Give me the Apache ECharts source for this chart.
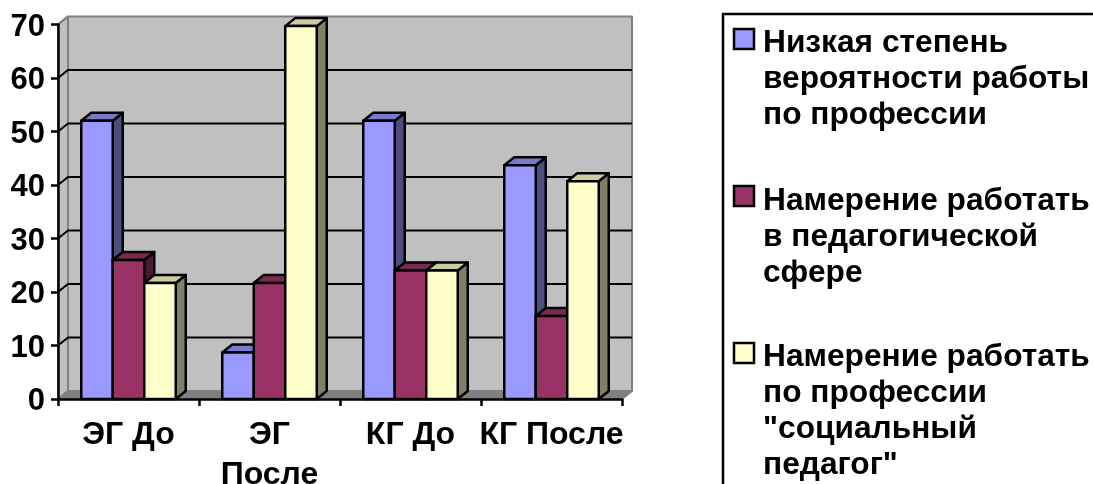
<!DOCTYPE html>
<html>
<head>
<meta charset="utf-8">
<style>
    html, body { margin: 0; padding: 0; background: #fff; }
    #main { width: 1093px; height: 484px; }
</style>
<script src="https://cdn.jsdelivr.net/npm/echarts@6/dist/echarts.min.js"></script>
</head>
<body>
<div id="main"></div>
<script>
    var categories = ['ЭГ До', 'ЭГ\nПосле', 'КГ До', 'КГ После'];
    var lowChance = [52, 8.7, 52, 43.7];
    var pedagogy = [26, 21.7, 24, 15.5];
    var socialPedagog = [21.7, 69.7, 24, 40.7];
    var tickValues = [0, 10, 20, 30, 40, 50, 60, 70];
    var seriesNames = [
        'Низкая степень\nвероятности работы\nпо профессии',
        'Намерение работать\nв педагогической\nсфере',
        'Намерение работать\nпо профессии\n"социальный\nпедагог"'
    ];

    var DX = 10, DY = 8; // сдвиг псевдо-3D
    var FONT = '"Liberation Sans", Arial, sans-serif';

    function poly(points, fill, stroke, lineWidth) {
        return {
            type: 'polygon',
            shape: { points: points },
            style: { fill: fill, stroke: stroke, lineWidth: lineWidth, lineJoin: 'round' }
        };
    }

    // стенки и пол
    function renderWalls(params, api) {
        var a = api.coord([0, 0]);
        var b = api.coord([3, 70]);
        var left = params.coordSys.x, right = left + params.coordSys.width;
        var bottom = a[1], top = b[1];
        return {
            type: 'group',
            children: [
                poly([[left + DX, top - DY], [right + DX, top - DY], [right + DX, bottom - DY], [left + DX, bottom - DY]], '#c0c0c0', '#808080', 2),
                poly([[left, top], [left + DX, top - DY], [left + DX, bottom - DY], [left, bottom]], '#c0c0c0', '#808080', 2),
                poly([[left, bottom], [left + DX, bottom - DY], [right + DX, bottom - DY], [right, bottom]], '#808080', '#808080', 2)
            ]
        };
    }

    // линии сетки
    function renderGridLine(params, api) {
        var value = api.value(0);
        var y = api.coord([0, value])[1];
        var left = params.coordSys.x, right = left + params.coordSys.width;
        if (value === 0) return null;
        if (value === 70) {
            return {
                type: 'line',
                shape: { x1: left, y1: y, x2: left + DX, y2: y - DY },
                style: { stroke: '#808080', lineWidth: 2 }
            };
        }
        return {
            type: 'polyline',
            shape: { points: [[left, y], [left + DX, y - DY], [right + DX, y - DY]] },
            style: { fill: 'none', stroke: '#000', lineWidth: 2 }
        };
    }

    function makeBarRender(seriesIndex, front, top, side) {
        return function (params, api) {
            var base = api.coord([api.value(0), 0]);
            var peak = api.coord([api.value(0), api.value(1)]);
            var band = api.size([1, 0])[0];
            var w = band * 0.2234;
            var x0 = base[0] - w * 1.5 + w * seriesIndex;
            var x1 = x0 + w;
            var yb = base[1], yt = peak[1];
            return {
                type: 'group',
                children: [
                    poly([[x1, yb], [x1 + DX, yb - DY], [x1 + DX, yt - DY], [x1, yt]], side, '#000', 2.5),
                    poly([[x0, yt], [x0 + DX, yt - DY], [x1 + DX, yt - DY], [x1, yt]], top, '#000', 2.5),
                    poly([[x0, yt], [x1, yt], [x1, yb], [x0, yb]], front, '#000', 2.5)
                ]
            };
        };
    }

    function barData(values) {
        return values.map(function (v, i) { return [i, v]; });
    }

    var colors = [
        { front: '#9999ff', top: '#7a7acc', side: '#4d4d80' },
        { front: '#993366', top: '#7a2952', side: '#4d1a33' },
        { front: '#ffffcc', top: '#cccca3', side: '#808066' }
    ];
    var values = [lowChance, pedagogy, socialPedagog];

    var series = [
        { type: 'custom', name: 'walls', renderItem: renderWalls, data: [[0, 0]], clip: false, silent: true, z: 1 },
        { type: 'custom', name: 'gridlines', renderItem: renderGridLine, data: tickValues.map(function (t) { return [t]; }), encode: { y: 0 }, clip: false, silent: true, z: 2 }
    ];
    values.forEach(function (v, i) {
        series.push({
            type: 'custom',
            name: seriesNames[i],
            renderItem: makeBarRender(i, colors[i].front, colors[i].top, colors[i].side),
            data: barData(v),
            encode: { x: 0, y: 1 },
            clip: false,
            z: 3
        });
    });

    // легенда
    var legendY = [39, 196, 353];
    var legendTextY = [25, 183, 339];
    var legendItems = [{
        type: 'polyline',
        shape: { points: [[723, 484], [723, 14], [1093, 14]] },
        style: { fill: 'none', stroke: '#000', lineWidth: 2.5 }
    }];
    seriesNames.forEach(function (name, i) {
        legendItems.push({
            type: 'rect',
            shape: { x: 734, y: legendY[i] - 10, width: 20, height: 20 },
            style: { fill: colors[i].front, stroke: '#000', lineWidth: 2.5 }
        });
        legendItems.push({
            type: 'text',
            x: 763,
            y: legendTextY[i],
            style: { text: name, font: 'bold 31.7px ' + FONT, lineHeight: 36, fill: '#000', textVerticalAlign: 'top' }
        });
    });

    var myChart = echarts.init(document.getElementById('main'));
    myChart.setOption({
        animation: false,
        backgroundColor: '#fff',
        grid: { left: 58, right: 471, top: 24.5, bottom: 85, outerBoundsMode: 'none' },
        xAxis: {
            type: 'category',
            data: categories,
            z: 5,
            axisLine: { onZero: false, lineStyle: { color: '#000', width: 2.5 } },
            axisTick: { show: true, length: 7, lineStyle: { color: '#000', width: 2.5 } },
            axisLabel: { color: '#000', fontFamily: FONT, fontWeight: 'bold', fontSize: 32, margin: 16, lineHeight: 40, interval: 0, hideOverlap: false }
        },
        yAxis: {
            type: 'value',
            min: 0,
            max: 70,
            interval: 10,
            z: 5,
            splitLine: { show: false },
            axisLine: { show: true, lineStyle: { color: '#000', width: 2.5 } },
            axisTick: { show: true, length: 7, lineStyle: { color: '#000', width: 2.5 } },
            axisLabel: {
                margin: 13,
                hideOverlap: false,
                formatter: '{t|{value}}',
                rich: {
                    t: { color: '#000', fontFamily: FONT, fontWeight: 'bold', fontSize: 31, padding: [5, 0, 0, 0] }
                }
            }
        },
        series: series,
        graphic: { elements: legendItems }
    });
</script>
</body>
</html>
